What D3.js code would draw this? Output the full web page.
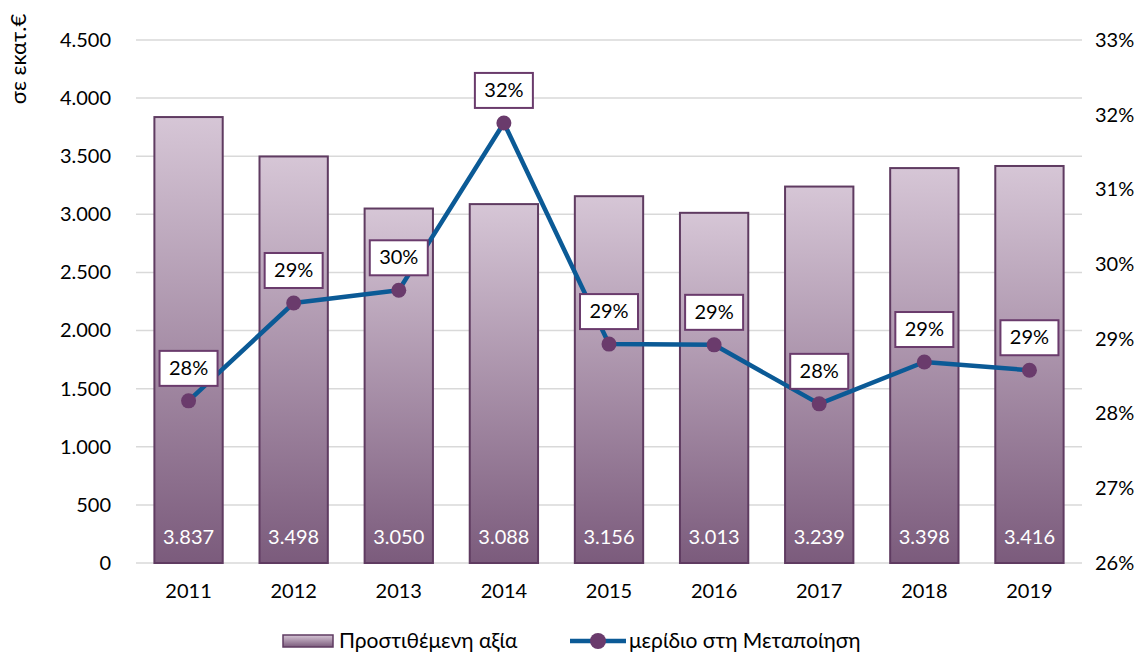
<!DOCTYPE html>
<head>
  <meta charset="utf-8">
  <script src="https://d3js.org/d3.v7.min.js"></script>
  <style>
    body { margin:0; background:#fff; }
    svg { font-family: Lato, "Open Sans", sans-serif; }
  </style>
</head>
<body>
<script type="text/javascript">
  var years = ["2011","2012","2013","2014","2015","2016","2017","2018","2019"];
  var addedValue = [3837, 3498, 3050, 3088, 3156, 3013, 3239, 3398, 3416];
  var sharePct = [28.17, 29.48, 29.65, 31.89, 28.93, 28.92, 28.13, 28.69, 28.58];
  var leftTicks = [0, 500, 1000, 1500, 2000, 2500, 3000, 3500, 4000, 4500];
  var rightTicks = [26, 27, 28, 29, 30, 31, 32, 33];

  var W = 1148, H = 655;
  var m = { top: 40, right: 66, bottom: 92, left: 136 };

  var svg = d3.select("body").append("svg").attr("width", W).attr("height", H);

  var defs = svg.append("defs");
  var grad = defs.append("linearGradient").attr("id", "barGrad")
    .attr("x1", 0).attr("y1", 0).attr("x2", 0).attr("y2", 1);
  grad.append("stop").attr("offset", "0%").attr("stop-color", "#d6c6d6");
  grad.append("stop").attr("offset", "100%").attr("stop-color", "#7b5b7c");

  var x = d3.scaleBand().domain(years).range([m.left, W - m.right]).paddingInner(0.35).paddingOuter(0.175);
  var yL = d3.scaleLinear().domain([0, 4500]).range([H - m.bottom, m.top]);
  var yR = d3.scaleLinear().domain([26, 33]).range([H - m.bottom, m.top]);
  var dot = n => d3.format(",")(n).replace(/,/g, ".");

  // gridlines
  svg.append("g").selectAll("line").data(leftTicks).enter().append("line")
    .attr("x1", m.left).attr("x2", W - m.right)
    .attr("y1", d => yL(d)).attr("y2", d => yL(d))
    .attr("stroke", "#d9d9d9").attr("stroke-width", 1.5);

  // left axis
  var axL = svg.append("g").attr("transform", "translate(" + (m.left - 22) + ",0)")
    .call(d3.axisLeft(yL).tickValues(leftTicks).tickSize(0).tickFormat(dot));
  axL.select(".domain").remove();
  axL.selectAll("text").attr("font-size", 20).attr("fill", "#000").attr("font-family", "Lato");

  // right axis
  var axR = svg.append("g").attr("transform", "translate(" + (W - m.right + 10) + ",0)")
    .call(d3.axisRight(yR).tickValues(rightTicks).tickSize(0).tickFormat(d => d + "%"));
  axR.select(".domain").remove();
  axR.selectAll("text").attr("font-size", 20).attr("fill", "#000").attr("font-family", "Lato");

  // x axis
  var axX = svg.append("g").attr("transform", "translate(0," + (H - m.bottom + 18) + ")")
    .call(d3.axisBottom(x).tickSize(0));
  axX.select(".domain").remove();
  axX.selectAll("text").attr("font-size", 20).attr("fill", "#000").attr("font-family", "Lato");

  // y title
  svg.append("text").attr("transform", "translate(26,59) rotate(-90)")
    .attr("text-anchor", "middle").attr("font-size", 22).text("σε εκατ.€");

  // bars
  svg.append("g").selectAll("rect").data(addedValue).enter().append("rect")
    .attr("x", (d, i) => x(years[i]))
    .attr("y", d => yL(d))
    .attr("width", x.bandwidth())
    .attr("height", d => yL(0) - yL(d))
    .attr("fill", "url(#barGrad)")
    .attr("stroke", "#5f3b61").attr("stroke-width", 2);

  svg.append("g").selectAll("text").data(addedValue).enter().append("text")
    .attr("x", (d, i) => x(years[i]) + x.bandwidth() / 2)
    .attr("y", yL(0) - 19)
    .attr("text-anchor", "middle").attr("font-size", 20).attr("fill", "#fff")
    .text(dot);

  // line
  var line = d3.line()
    .x((d, i) => x(years[i]) + x.bandwidth() / 2)
    .y(d => yR(d));
  svg.append("path").datum(sharePct).attr("d", line)
    .attr("fill", "none").attr("stroke", "#0b5a96").attr("stroke-width", 4.5)
    .attr("stroke-linejoin", "round");

  svg.append("g").selectAll("circle").data(sharePct).enter().append("circle")
    .attr("cx", (d, i) => x(years[i]) + x.bandwidth() / 2)
    .attr("cy", d => yR(d)).attr("r", 7.5).attr("fill", "#6a3b6c");

  // labels
  var lab = svg.append("g").selectAll("g").data(sharePct).enter().append("g")
    .attr("transform", (d, i) => "translate(" + (x(years[i]) + x.bandwidth() / 2) + "," + (yR(d) - 33) + ")");
  lab.append("rect").attr("x", -29).attr("y", -17).attr("width", 58).attr("height", 35)
    .attr("fill", "#fff").attr("stroke", "#6a3b6c").attr("stroke-width", 2);
  lab.append("text").attr("text-anchor", "middle").attr("dy", "0.36em")
    .attr("font-size", 20).text(d => Math.round(d) + "%");

  // legend
  var lg = svg.append("g").attr("transform", "translate(0,641)");
  lg.append("rect").attr("x", 283).attr("y", -6).attr("width", 50).attr("height", 12)
    .attr("fill", "url(#barGrad)").attr("stroke", "#5f3b61").attr("stroke-width", 1.5);
  lg.append("text").attr("x", 339).attr("dy", "0.35em").attr("font-size", 21).text("Προστιθέμενη αξία");
  lg.append("line").attr("x1", 570).attr("x2", 626).attr("y1", 0).attr("y2", 0)
    .attr("stroke", "#0b5a96").attr("stroke-width", 4.5);
  lg.append("circle").attr("cx", 598).attr("cy", 0).attr("r", 8).attr("fill", "#6a3b6c");
  lg.append("text").attr("x", 629).attr("dy", "0.35em").attr("font-size", 21).text("μερίδιο στη Μεταποίηση");
</script>
</body>
